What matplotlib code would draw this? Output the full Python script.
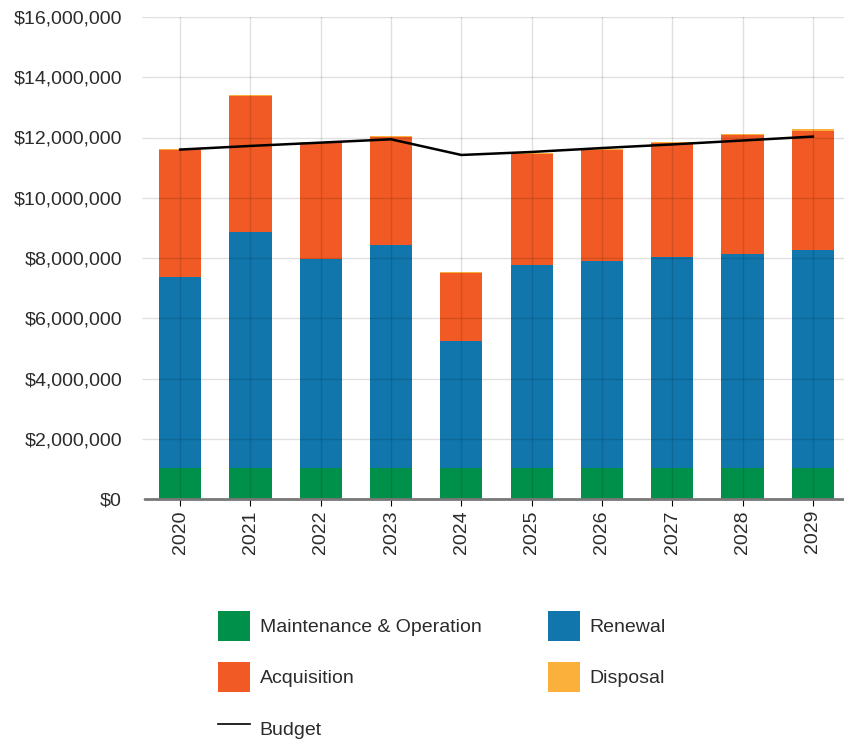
import numpy as np
import matplotlib.pyplot as plt
from matplotlib.patches import Patch
from matplotlib.lines import Line2D
from matplotlib.ticker import FuncFormatter

# Forecast spend by category (dollars)
years = ['2020', '2021', '2022', '2023', '2024', '2025', '2026', '2027', '2028', '2029']
maintenance = [1030000, 1030000, 1030000, 1030000, 1030000, 1030000, 1030000, 1030000, 1030000, 1030000]
renewal = [6340000, 7840000, 6940000, 7410000, 4220000, 6740000, 6870000, 6990000, 7110000, 7240000]
acquisition = [4200000, 4500000, 3850000, 3570000, 2260000, 3670000, 3670000, 3800000, 3930000, 3960000]
disposal = [40000, 40000, 40000, 40000, 40000, 40000, 40000, 40000, 40000, 40000]
budget = [11600000, 11720000, 11830000, 11940000, 11420000, 11520000, 11650000, 11770000, 11900000, 12030000]

c_maint = '#00904A'
c_renew = '#1076AC'
c_acq = '#F15A24'
c_disp = '#FBB03B'
text_col = '#2b2b2b'

plt.rcParams['font.family'] = ['Liberation Sans', 'DejaVu Sans']

fig = plt.figure(figsize=(8.45, 7.4), dpi=100)
ax = fig.add_axes([145 / 845, 1 - 499 / 740, 703 / 845, 482 / 740])

x = np.arange(len(years))
w = 0.6
m = np.array(maintenance)
r = np.array(renewal)
a = np.array(acquisition)
d = np.array(disposal)

ax.bar(x, m, w, color=c_maint, zorder=1)
ax.bar(x, r, w, bottom=m, color=c_renew, zorder=1)
ax.bar(x, a, w, bottom=m + r, color=c_acq, zorder=1)
ax.bar(x, d, w, bottom=m + r + a, color=c_disp, zorder=1)
ax.plot(x, budget, color='black', lw=1.8, zorder=4)

ax.set_xlim(-0.5, 9.5)
ax.set_ylim(0, 16000000)
ax.set_yticks(np.arange(0, 16000001, 2000000))
ax.yaxis.set_major_formatter(FuncFormatter(lambda v, p: '${:,.0f}'.format(v)))
ax.set_xticks(x)
ax.set_xticklabels(years, rotation=90)

ax.grid(True, color='black', alpha=0.12, lw=1, zorder=3)
ax.set_axisbelow(False)

for s in ['top', 'right', 'left']:
    ax.spines[s].set_visible(False)
ax.spines['bottom'].set_color('#777777')
ax.spines['bottom'].set_linewidth(2)
ax.spines['bottom'].set_zorder(5)

ax.tick_params(axis='y', length=2, color='#dddddd', labelsize=14, labelcolor=text_col, pad=14.5)
ax.tick_params(axis='x', length=5, color='black', labelsize=14, labelcolor=text_col, pad=3)

handles = [
    Patch(facecolor=c_maint, label='Maintenance & Operation'),
    Patch(facecolor=c_acq, label='Acquisition'),
    Line2D([0], [0], color='black', lw=1.2, label='Budget'),
    Patch(facecolor=c_renew, label='Renewal'),
    Patch(facecolor=c_disp, label='Disposal'),
]
fig.legend(handles=handles, ncol=2, loc='upper left',
           bbox_to_anchor=(218 / 845, 1 - 611 / 740),
           frameon=False, fontsize=14, labelcolor=text_col,
           handlelength=1.65, handleheight=2.0, handletextpad=0.5,
           columnspacing=3.4, labelspacing=1.09, borderpad=0, borderaxespad=0)

fig.savefig('out.png', dpi=100)
